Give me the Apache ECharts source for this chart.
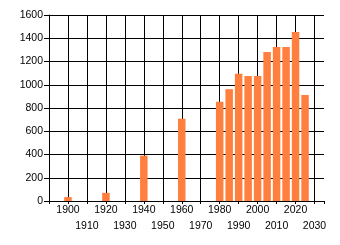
<!DOCTYPE html>
<html>
<head>
<meta charset="utf-8">
<script src="https://cdn.jsdelivr.net/npm/echarts@6/dist/echarts.min.js"></script>
<style>
html,body{margin:0;padding:0;background:#fff;}
#c{width:340px;height:245px;}
</style>
</head>
<body>
<div id="c"></div>
<script>
var years = [1900, 1920, 1940, 1960, 1980, 1985, 1990, 1995, 2000, 2005, 2010, 2015, 2020, 2025];
var values = [34, 70, 390, 708, 854, 962, 1095, 1075, 1075, 1282, 1325, 1325, 1454, 912];
var yTicks = [0, 200, 400, 600, 800, 1000, 1200, 1400, 1600];
var xTickLabels = [1900, 1910, 1920, 1930, 1940, 1950, 1960, 1970, 1980, 1990, 2000, 2010, 2020, 2030];

var data = years.map(function (y, i) { return [y, values[i]]; });
var font = 'Liberation Sans, Arial, sans-serif';

var chart = echarts.init(document.getElementById('c'), null, {renderer: 'canvas'});
chart.setOption({
  animation: false,
  backgroundColor: '#fff',
  grid: {left: 49, top: 15, right: 16, bottom: 44, containLabel: false},
  xAxis: {
    type: 'value',
    min: 1890,
    max: 2035,
    interval: 10,
    axisLine: {show: true, lineStyle: {color: '#000', width: 1}},
    axisTick: {show: true, length: 3, lineStyle: {color: '#000'}},
    splitLine: {show: true, showMinLine: false, showMaxLine: false, lineStyle: {color: '#000', width: 1}},
    axisLabel: {
      color: '#000',
      fontFamily: font,
      fontSize: 10.5,
      lineHeight: 16,
      margin: 1,
      showMinLabel: true,
      showMaxLabel: true,
      formatter: function (v) {
        var idx = xTickLabels.indexOf(v);
        if (idx < 0) return '';
        return (idx % 2 === 1 ? '\n' : '') + v;
      }
    }
  },
  yAxis: {
    type: 'value',
    min: 0,
    max: 1600,
    interval: 200,
    axisLine: {show: true, lineStyle: {color: '#000', width: 1}},
    axisTick: {show: true, length: 5, lineStyle: {color: '#000'}},
    splitLine: {show: true, lineStyle: {color: '#000', width: 1}},
    axisLabel: {
      color: '#000',
      fontFamily: font,
      fontSize: 10.5,
      margin: 6,
      formatter: function (v) { return yTicks.indexOf(v) >= 0 ? String(v) : ''; }
    }
  },
  series: [{
    type: 'bar',
    data: data,
    barWidth: 7.5,
    itemStyle: {color: '#FF7F3F'}
  }]
});
</script>
</body>
</html>
